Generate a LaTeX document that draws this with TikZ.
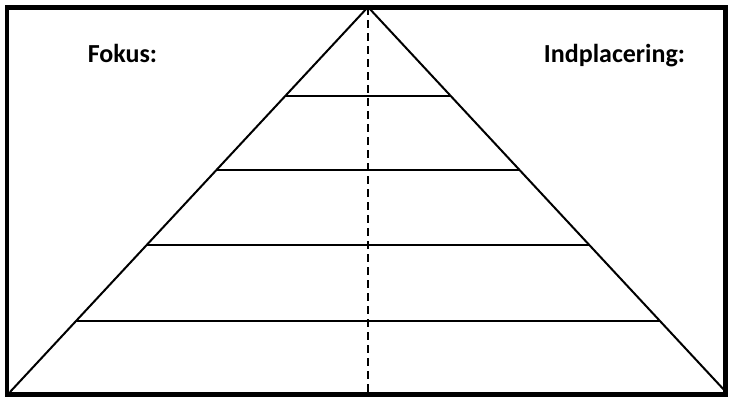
\documentclass[tikz,border=0pt]{standalone}
\usepackage{fontspec}
\setmainfont{Carlito}
\usetikzlibrary{calc}

\begin{document}
\begin{tikzpicture}[
    x=1pt, y=-1pt,
    frame/.style={draw=black, line width=4.5pt},
    side/.style={draw=black, line width=2pt},
    level/.style={draw=black, line width=1.5pt},
    axis/.style={draw=black, line width=2pt, dash pattern=on 8pt off 5pt},
    heading/.style={font=\fontsize{26}{30}\selectfont\bfseries, anchor=base}
]

\useasboundingbox (0,0) rectangle (729,399);

% Frame
\draw[frame] (7,7.5) rectangle (725.5,394.5);

% Pyramid corners
\coordinate (apex) at (368,7);
\coordinate (bl) at (10,392);
\coordinate (br) at (726,392);

% Sides
\draw[side] (bl) -- (apex) -- (br);

% Middle line
\coordinate (mid) at (368,392);
\draw[axis] (apex) -- (mid);

% Levels
\foreach \t/\name in {0.231/a, 0.423/b, 0.618/c, 0.816/d} {
    \coordinate (l\name) at ($(apex)!\t!(bl)$);
    \coordinate (r\name) at ($(apex)!\t!(br)$);
    \draw[level] (l\name) -- (r\name);
}

% Labels
\node[heading] (fokus) at (122.5,62) {Fokus:};
\node[heading] (indpl) at (614.5,62) {Indplacering:};

\end{tikzpicture}
\end{document}
